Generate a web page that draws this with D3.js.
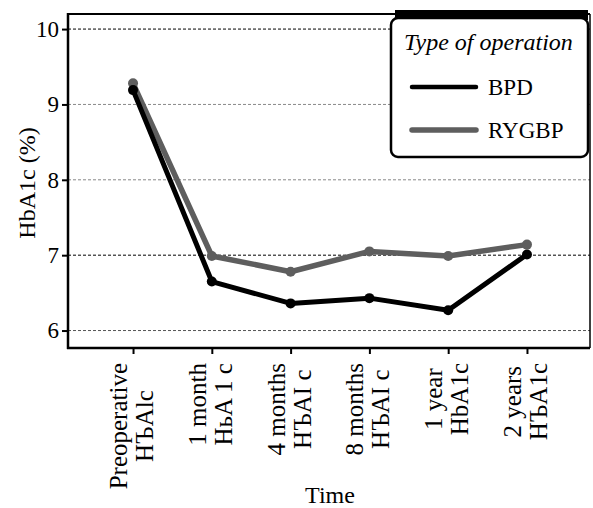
<!DOCTYPE html>
<html><head><meta charset="utf-8">
<script src="https://cdn.jsdelivr.net/npm/d3@7"></script>
<style>
html,body{margin:0;padding:0;background:#fff;}
svg{display:block;font-family:"Liberation Serif","Times New Roman",serif;}
</style></head>
<body><svg id="c" width="593" height="508"></svg>
<script>
const categories = ["pre","m1","m4","m8","y1","y2"];
const tickLines = [
  ["Preoperative","HЪAlc"],
  ["1 month","HьA 1 c"],
  ["4 months","HЪAI c"],
  ["8 months","HЪAI c"],
  ["1 year","HbA1c"],
  ["2 years","HЪA1c"]
];
const bpd   = [9.19, 6.65, 6.36, 6.43, 6.27, 7.01];
const rygbp = [9.28, 6.99, 6.78, 7.05, 6.99, 7.14];
const yTicks = [6,7,8,9,10];
const seriesNames = ["BPD","RYGBP"];

const svg = d3.select("#c");
const L=68, T=14, R=590, B=348;
const x = d3.scalePoint().domain(categories).range([70,590]).padding(0.8);
const y = d3.scaleLinear().domain([5.775,10.2]).range([347.5,14]);

const gridColor = v => (v===10||v===7) ? "#000" : (v===6 ? "#555" : "#888");
svg.append("g").selectAll("line").data(yTicks).join("line")
  .attr("x1",L).attr("x2",R).attr("y1",d=>y(d)).attr("y2",d=>y(d))
  .attr("stroke",d=>gridColor(d)).attr("stroke-width",1).attr("stroke-dasharray","3,2");

svg.append("line").attr("x1",L).attr("x2",R).attr("y1",T).attr("y2",T).attr("stroke","#000").attr("stroke-width",2);
svg.append("line").attr("x1",R).attr("x2",R).attr("y1",T).attr("y2",B).attr("stroke","#000").attr("stroke-width",1.5);

const ya = svg.append("g").attr("transform",`translate(${L},0)`)
  .call(d3.axisLeft(y).tickValues(yTicks).tickSize(6).tickPadding(3).tickFormat(d3.format("d")));
ya.select(".domain").remove();
ya.selectAll(".tick line").attr("stroke","#000").attr("stroke-width",2);
ya.selectAll(".tick text").attr("font-size",23).attr("font-family","Liberation Serif").attr("fill","#000");
svg.append("line").attr("x1",L).attr("x2",L).attr("y1",T-1).attr("y2",B+1).attr("stroke","#000").attr("stroke-width",2.5);

const xa = svg.append("g").attr("transform",`translate(0,${B})`)
  .call(d3.axisBottom(x).tickSize(6).tickFormat(""));
xa.select(".domain").remove();
xa.selectAll(".tick line").attr("stroke","#000").attr("stroke-width",2);
svg.append("line").attr("x1",L-1).attr("x2",R).attr("y1",B).attr("y2",B).attr("stroke","#000").attr("stroke-width",2.5);

categories.forEach((c,i)=>{
  const g = svg.append("g").attr("transform",`translate(${x(c)},0) rotate(-90)`);
  const lines = tickLines[i];
  const texts = lines.map((s,j)=> g.append("text").text(s)
    .attr("font-size",25).attr("fill","#000")
    .attr("text-anchor","middle")
    .attr("y", j===0 ? -6 : 20));
  const maxW = d3.max(texts, t=>t.node().getComputedTextLength());
  texts.forEach(t=>t.attr("x", -363 - maxW/2));
});

const line = d3.line().x((d,i)=>x(categories[i])).y(d=>y(d));
const series = [
  {name:seriesNames[1], vals:rygbp, color:"#5e5e5e", w:5.5, r:5},
  {name:seriesNames[0], vals:bpd, color:"#000", w:5, r:5}
];
series.forEach(s=>{
  svg.append("path").datum(s.vals).attr("d",line).attr("fill","none")
    .attr("stroke",s.color).attr("stroke-width",s.w).attr("stroke-linejoin","round");
  svg.append("g").selectAll("circle").data(s.vals).join("circle")
    .attr("cx",(d,i)=>x(categories[i])).attr("cy",d=>y(d)).attr("r",s.r).attr("fill",s.color);
});

svg.append("text").attr("transform","translate(35,183) rotate(-90)").attr("text-anchor","middle")
  .attr("font-size",24).attr("fill","#000").text("HbA1c (%)");
svg.append("text").attr("x",330).attr("y",503).attr("text-anchor","middle")
  .attr("font-size",24).attr("fill","#000").text("Time");

svg.append("rect").attr("x",395).attr("y",10).attr("width",193).attr("height",10).attr("fill","#000");
svg.append("rect").attr("x",391).attr("y",18).attr("width",197).attr("height",139).attr("rx",7)
  .attr("fill","#fff").attr("stroke","#000").attr("stroke-width",2.5);
svg.append("text").attr("x",404).attr("y",50).attr("font-size",24).attr("font-style","italic")
  .attr("fill","#000").text("Type of operation");
const legItems = [
  {name:seriesNames[0], color:"#000", w:4.5, yy:87},
  {name:seriesNames[1], color:"#5e5e5e", w:5.5, yy:130}
];
legItems.forEach(it=>{
  svg.append("line").attr("x1",412).attr("x2",476).attr("y1",it.yy).attr("y2",it.yy)
    .attr("stroke",it.color).attr("stroke-width",it.w).attr("stroke-linecap","round");
  svg.append("text").attr("x",488).attr("y",it.yy+8).attr("font-size",23).attr("fill","#000").text(it.name);
});
</script></body></html>
